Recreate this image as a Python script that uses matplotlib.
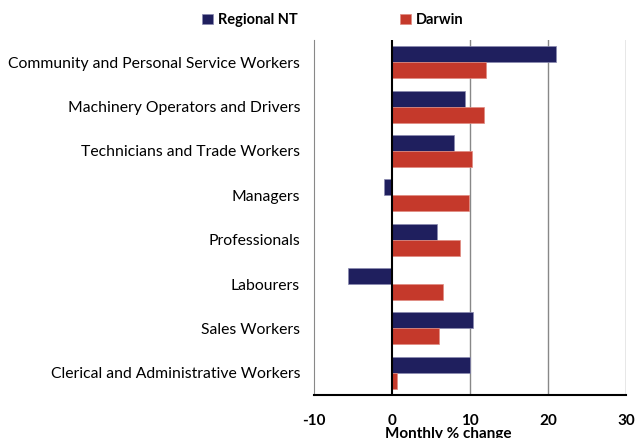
import matplotlib.pyplot as plt
import numpy as np

plt.rcParams['font.family'] = ['Lato', 'DejaVu Sans']

categories = ['Community and Personal Service Workers', 'Machinery Operators and Drivers',
              'Technicians and Trade Workers', 'Managers', 'Professionals', 'Labourers',
              'Sales Workers', 'Clerical and Administrative Workers']
regional_nt = [21.0, 9.4, 8.0, -1.0, 5.8, -5.7, 10.4, 10.0]
darwin = [12.1, 11.8, 10.2, 9.9, 8.7, 6.5, 6.0, 0.6]
xticks = [-10, 0, 10, 20, 30]

navy = '#1f1f5e'
red = '#c5392b'

fig = plt.figure(figsize=(6.36, 4.38), dpi=100)
ax = fig.add_axes([314 / 636, 1 - 395 / 438, 312 / 636, 355 / 438])

y = np.arange(len(categories))
h = 0.36
ax.barh(y - h / 2, regional_nt, height=h, color=navy, edgecolor='#8a8ab0', linewidth=0.5, label='Regional NT')
ax.barh(y + h / 2, darwin, height=h, color=red, edgecolor='#e08a80', linewidth=0.5, label='Darwin')

ax.set_xlim(-10, 30)
ax.set_ylim(len(categories) - 0.5, -0.5)
ax.set_xticks(xticks)
ax.set_xticklabels([str(t) for t in xticks], fontweight='bold', fontsize=11)
ax.set_yticks(y)
ax.set_yticklabels(categories, fontsize=11.3)
ax.tick_params(axis='x', length=0, pad=14)
ax.tick_params(axis='y', length=0, pad=10)

for x in [10, 20, 30]:
    ax.axvline(x, color='#888888', linewidth=1, zorder=0)
ax.axvline(0, color='black', linewidth=1.5, zorder=3)

for s in ['top', 'right']:
    ax.spines[s].set_visible(False)
ax.spines['left'].set_color('#888888')
ax.spines['bottom'].set_color('black')
ax.spines['bottom'].set_linewidth(1.5)

ax.set_xlabel('Monthly % change', fontweight='bold', fontsize=11)
ax.xaxis.set_label_coords(0.43, -0.09)

fig.legend(loc='center', bbox_to_anchor=(333 / 636, 1 - 20 / 438), ncol=2, frameon=False,
           prop={'weight': 'bold', 'size': 10.5}, handlelength=0.75, handleheight=0.75,
           handletextpad=0.35, columnspacing=7)

fig.savefig('out.png', dpi=100)
